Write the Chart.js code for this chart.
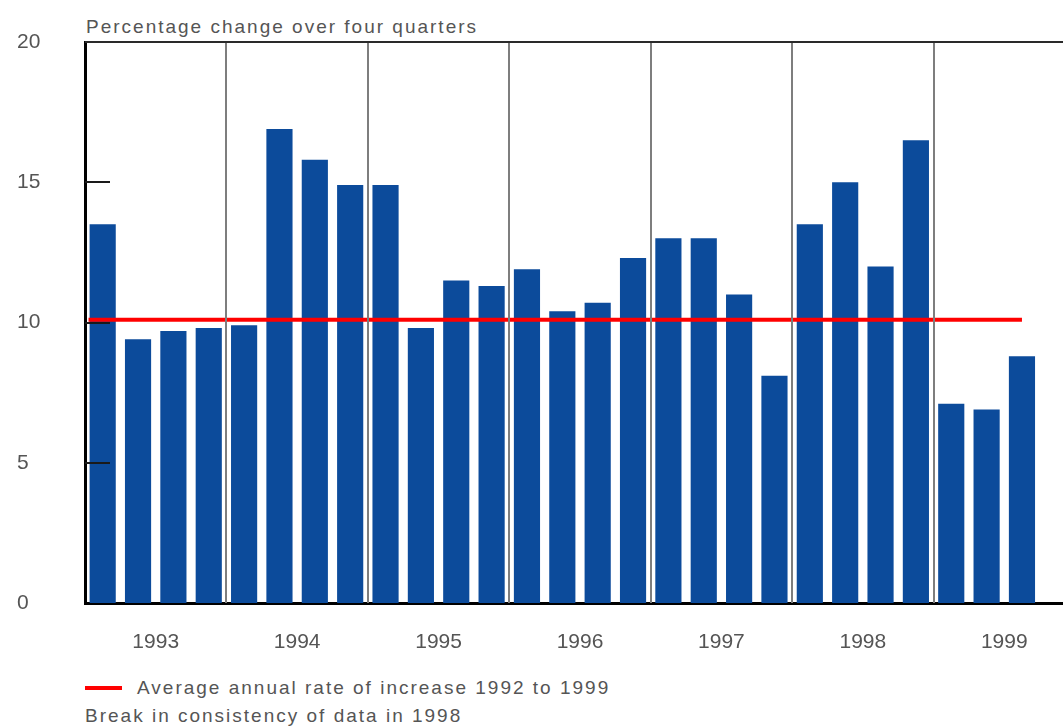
<!DOCTYPE html>
<html>
<head>
<meta charset="utf-8">
<script src="https://cdn.jsdelivr.net/npm/chart.js@4.4.1/dist/chart.umd.min.js"></script>
<style>
  html, body { margin: 0; padding: 0; background: #fff; overflow: hidden; width: 1063px; height: 728px; }
  body { position: relative; font-family: "Liberation Sans", Arial, sans-serif; color: #555; }
  #wrap { position: absolute; left: 0; top: 0; width: 1075px; height: 660px; }
  .txt { position: absolute; font-size: 19px; line-height: 22px; letter-spacing: 2px; white-space: nowrap; }
  #swatch { position: absolute; left: 85px; top: 686px; width: 37px; height: 4px; background: #ff0000; }
</style>
</head>
<body>
<div class="txt" style="left:86px; top:16px;">Percentage change over four quarters</div>
<div id="wrap"><canvas id="chart"></canvas></div>
<div id="swatch"></div>
<div class="txt" style="left:137px; top:677px;">Average annual rate of increase 1992 to 1999</div>
<div class="txt" style="left:85px; top:705px;">Break in consistency of data in 1998</div>
<script>
"use strict"

const years = ['1993', '1994', '1995', '1996', '1997', '1998', '1999']

const quarter_labels = []
years.forEach(y => ['Q1', 'Q2', 'Q3', 'Q4'].forEach(q => quarter_labels.push(`${y} ${q}`)))

// percentage change over four quarters, one value per quarter (last quarter of 1999 not published)
const quarter_values = [
    13.5, 9.4, 9.7, 9.8,
    9.9, 16.9, 15.8, 14.9,
    14.9, 9.8, 11.5, 11.3,
    11.9, 10.4, 10.7, 12.3,
    13.0, 13.0, 11.0, 8.1,
    13.5, 15.0, 12.0, 16.5,
    7.1, 6.9, 8.8, null
]

// average annual rate of increase 1992 to 1999, spanning quarter index 0.1 .. 26.5
const average_rate = 10.1
const average_span = [0.1, 26.5]

const y_ticks_inside = [5, 10, 15]

// vertical lines between years + inner y ticks + top border
const frame_plugin = {
    id: 'frame',
    afterDatasetsDraw(chart) {
        const ctx = chart.ctx
        const a = chart.chartArea
        const x = chart.scales.x
        const y = chart.scales.y
        ctx.save()
        ctx.strokeStyle = '#7e7e7e'
        ctx.lineWidth = 2
        for (let i = 4; i < quarter_labels.length; i += 4) {
            const px = Math.round((x.getPixelForValue(i - 1) + x.getPixelForValue(i)) / 2)
            ctx.beginPath()
            ctx.moveTo(px, a.top)
            ctx.lineTo(px, a.bottom)
            ctx.stroke()
        }
        ctx.strokeStyle = '#2a2a2a'
        ctx.beginPath()
        ctx.moveTo(a.left, a.top)
        ctx.lineTo(a.right, a.top)
        ctx.stroke()
        ctx.strokeStyle = '#1a1a1a'
        y_ticks_inside.forEach(v => {
            const py = Math.round(y.getPixelForValue(v))
            ctx.beginPath()
            ctx.moveTo(a.left, py)
            ctx.lineTo(a.left + 25, py)
            ctx.stroke()
        })
        ctx.restore()
    }
}

new Chart(document.getElementById('chart').getContext('2d'), {
    data: {
        labels: quarter_labels,
        datasets: [{
            type: 'line',
            label: 'Average annual rate of increase 1992 to 1999',
            xAxisID: 'xl',
            data: average_span.map(v => ({ x: v, y: average_rate })),
            borderColor: '#ff0000',
            borderWidth: 4,
            pointRadius: 0,
            order: 0
        }, {
            type: 'bar',
            label: 'Percentage change over four quarters',
            xAxisID: 'x',
            data: quarter_values,
            backgroundColor: '#0c4b9b',
            grouped: false,
            categoryPercentage: 1,
            barPercentage: 0.74,
            order: 1
        }]
    },
    options: {
        responsive: true,
        maintainAspectRatio: false,
        animation: false,
        layout: { padding: { left: 17, top: 42, right: 0, bottom: 0 } },
        plugins: {
            legend: { display: false },
            tooltip: { enabled: false }
        },
        scales: {
            x: {
                type: 'category',
                position: 'bottom',
                offset: true,
                grid: { display: false },
                ticks: { display: false },
                border: { color: '#000', width: 3 },
                afterFit: s => { s.height = 0 }
            },
            x2: {
                type: 'category',
                position: 'bottom',
                labels: years,
                offset: true,
                grid: { display: false, drawTicks: false },
                border: { display: false },
                ticks: {
                    color: '#555',
                    padding: 27,
                    maxRotation: 0,
                    font: { family: '"Liberation Sans", Arial, sans-serif', size: 21 }
                },
                afterFit: s => { s.height = 57 }
            },
            xl: {
                type: 'linear',
                display: false,
                min: 0,
                max: quarter_labels.length
            },
            y: {
                min: 0,
                max: 20,
                grid: { display: false, drawTicks: false },
                border: { color: '#000', width: 3 },
                ticks: {
                    stepSize: 5,
                    color: '#555',
                    crossAlign: 'far',
                    font: { family: '"Liberation Sans", Arial, sans-serif', size: 21 }
                },
                afterFit: s => { s.width = 68 }
            }
        }
    },
    plugins: [frame_plugin]
})
</script>
</body>
</html>
